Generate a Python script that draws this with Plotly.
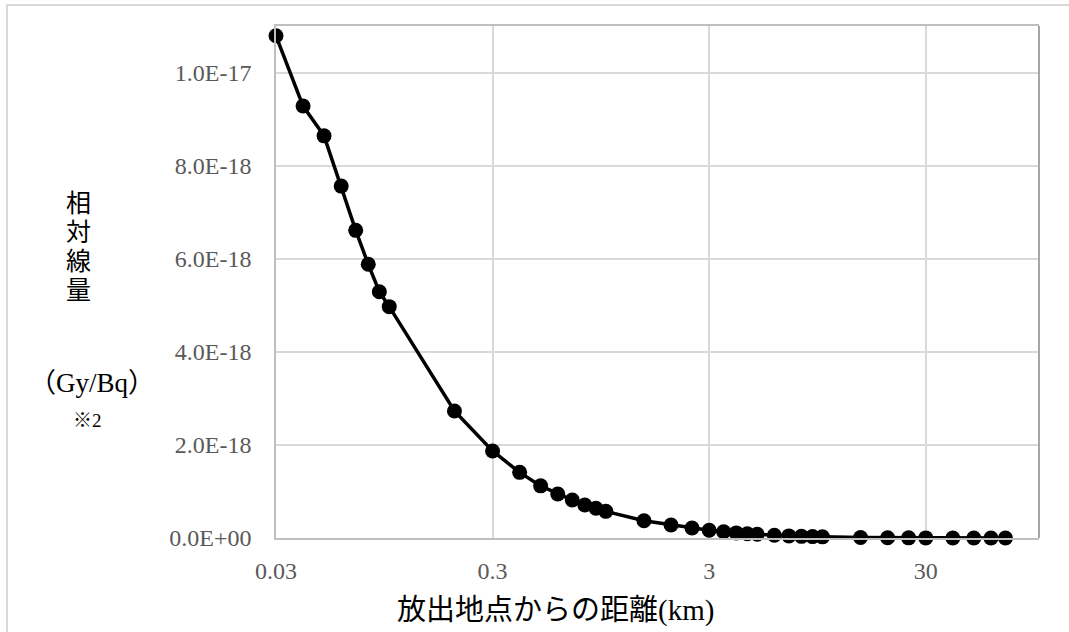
import plotly.graph_objects as go
import math

# distance from release point (km)
distance_km = [0.03, 0.04, 0.05, 0.06, 0.07, 0.08, 0.09, 0.1, 0.2, 0.3, 0.4, 0.5, 0.6, 0.7,
               0.8, 0.9, 1.0, 1.5, 2.0, 2.5, 3.0, 3.5, 4.0, 4.5, 5.0, 6.0, 7.0, 8.0, 9.0, 10.0,
               15.0, 20.0, 25.0, 30.0, 40.0, 50.0, 60.0, 70.0]
# relative dose (Gy/Bq)
dose = [1.079e-17, 9.28e-18, 8.64e-18, 7.56e-18, 6.61e-18, 5.88e-18, 5.29e-18, 4.97e-18,
        2.73e-18, 1.87e-18, 1.41e-18, 1.12e-18, 9.45e-19, 8.16e-19, 7.09e-19, 6.38e-19,
        5.73e-19, 3.72e-19, 2.79e-19, 2.15e-19, 1.65e-19, 1.35e-19, 1.10e-19, 9.0e-20,
        8.0e-20, 6.0e-20, 4.5e-20, 3.5e-20, 3.0e-20, 2.5e-20, 1.0e-20, 5.0e-21, 3.0e-21,
        2.0e-21, 1.0e-21, 5.0e-22, 3.0e-22, 2.0e-22]

x_tick_vals = [0.03, 0.3, 3, 30]
x_tick_labels = ["0.03", "0.3", "3", "30"]
y_tick_vals = [0, 2e-18, 4e-18, 6e-18, 8e-18, 1e-17]
y_tick_labels = ["0.0E+00", "2.0E-18", "4.0E-18", "6.0E-18", "8.0E-18", "1.0E-17"]

x_title = "放出地点からの距離(km)"
y_title_chars = ["相", "対", "線", "量"]
y_unit = "（Gy/Bq）"
y_note = "※2"

SERIF = "Liberation Serif, Noto Sans CJK JP"
W, H = 1069, 632
L, R, T, B = 276, 30, 26, 94
pw, ph = W - L - R, H - T - B


def px(xp):
    return (xp - L) / pw


def py(yp):
    return (H - B - yp) / ph


fig = go.Figure()
fig.add_trace(go.Scatter(
    x=distance_km, y=dose, mode="lines+markers",
    line=dict(color="black", width=3.5),
    marker=dict(color="black", size=15, symbol="circle"),
    showlegend=False, cliponaxis=False,
))

fig.update_layout(
    width=W, height=H,
    margin=dict(l=L, r=R, t=T, b=B),
    paper_bgcolor="white", plot_bgcolor="white",
    font=dict(family=SERIF, color="#595959"),
    xaxis=dict(
        type="log", range=[math.log10(0.03), math.log10(100)],
        tickvals=x_tick_vals, ticktext=x_tick_labels,
        tickfont=dict(size=24, color="#595959", family=SERIF),
        showgrid=True, gridcolor="#d9d9d9", gridwidth=1.5,
        showline=True, linecolor="#bfbfbf", linewidth=1.5, mirror=True,
        ticks="outside", ticklen=10, tickcolor="rgba(0,0,0,0)",
        zeroline=False,
    ),
    yaxis=dict(
        range=[0, 1.1e-17],
        tickvals=y_tick_vals, ticktext=y_tick_labels,
        tickfont=dict(size=24, color="#595959", family=SERIF),
        showgrid=True, gridcolor="#d9d9d9", gridwidth=1.5,
        showline=True, linecolor="#bfbfbf", linewidth=1.5,
        ticks="outside", ticklen=18, tickcolor="rgba(0,0,0,0)",
        zeroline=False,
    ),
)

# right border of plot area
fig.add_shape(type="line", xref="paper", yref="paper", x0=1, x1=1, y0=0, y1=1,
              line=dict(color="#a6a6a6", width=2))
# outer chart frame
fig.add_shape(type="rect", xref="paper", yref="paper",
              x0=px(7), x1=px(1100), y0=py(700), y1=py(5),
              line=dict(color="#d9d9d9", width=2), layer="below")

ann = []
for ch, yc in zip(y_title_chars, [203, 232, 261, 290]):
    ann.append(dict(text=ch, x=px(78), y=py(yc), xref="paper", yref="paper",
                    showarrow=False, font=dict(size=25, color="black", family=SERIF),
                    xanchor="center", yanchor="middle", borderpad=0))
ann += [
    dict(text=y_unit, x=px(92), y=py(383), xref="paper", yref="paper",
         showarrow=False, font=dict(size=27, color="black", family=SERIF),
         xanchor="center", yanchor="middle"),
    dict(text=y_note, x=px(87), y=py(420), xref="paper", yref="paper",
         showarrow=False, font=dict(size=19, color="black", family=SERIF),
         xanchor="center", yanchor="middle"),
    dict(text=x_title, x=px(555), y=py(610), xref="paper", yref="paper",
         showarrow=False, font=dict(size=29, color="black", family=SERIF),
         xanchor="center", yanchor="middle"),
]
fig.update_layout(annotations=ann)

fig.write_html("out.html", config={"displayModeBar": False},
               post_script="document.body.style.margin='0';document.body.style.padding='0';")
